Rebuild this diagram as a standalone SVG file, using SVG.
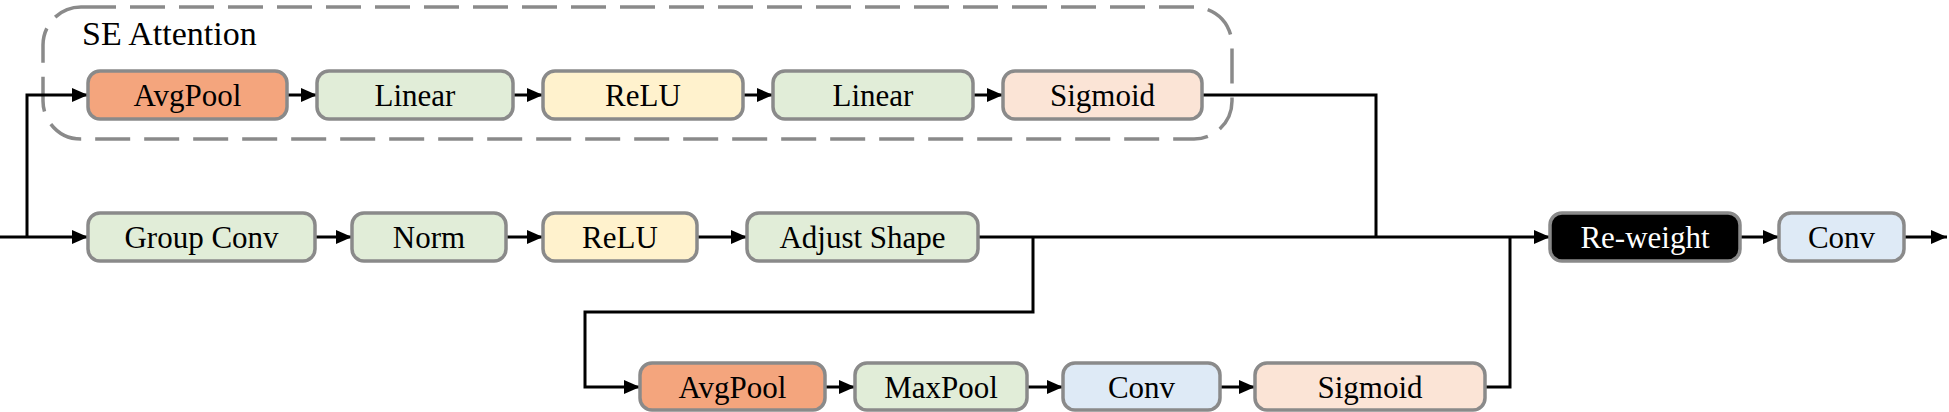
<svg xmlns="http://www.w3.org/2000/svg" width="1949" height="412" viewBox="0 0 1949 412">
<defs>
<marker id="ah" viewBox="0 0 16 14" refX="16" refY="7" markerWidth="16" markerHeight="14" markerUnits="userSpaceOnUse" orient="auto">
<path d="M0,0 L16,7 L0,14 Z" fill="#000"/>
</marker>
</defs>
<style>
.n{stroke:#8a8a8a;stroke-width:3.5}
.t{font-family:"Liberation Serif","Times New Roman",serif;font-size:31px;fill:#000;text-anchor:middle;dominant-baseline:central}
.w{fill:#fff}
.or{fill:#F4A57D}
.gr{fill:#E1EDD8}
.ye{fill:#FFF2CD}
.pk{fill:#FBE4D6}
.bl{fill:#DEEAF6}
.bk{fill:#000}
.c{fill:none;stroke:#000;stroke-width:3}
.ca{fill:none;stroke:#000;stroke-width:3;marker-end:url(#ah)}
</style>
<rect width="1949" height="412" fill="#fff"/>
<g id="se-attention">
<rect x="43" y="7" width="1189" height="132" rx="38" ry="38" fill="none" stroke="#8a8a8a" stroke-width="3.5" stroke-dasharray="35 14"/>
<text x="82" y="45" font-family="'Liberation Serif','Times New Roman',serif" font-size="34" fill="#000">SE Attention</text>
</g>
<g id="connectors">
<path class="ca" d="M0,237 H88"/>
<path class="ca" d="M27,237 V95 H88"/>
<path class="ca" d="M287,95 H317"/>
<path class="ca" d="M513,95 H543"/>
<path class="ca" d="M743,95 H773"/>
<path class="ca" d="M973,95 H1003"/>
<path class="c" d="M1202,95 H1376 V237"/>
<path class="ca" d="M315,237 H352"/>
<path class="ca" d="M506,237 H543"/>
<path class="ca" d="M697,237 H747"/>
<path class="ca" d="M978,237 H1550"/>
<path class="ca" d="M1033,237 V312 H585 V387 H640"/>
<path class="ca" d="M825,387 H855"/>
<path class="ca" d="M1027,387 H1063"/>
<path class="ca" d="M1220,387 H1255"/>
<path class="c" d="M1485,387 H1510 V237"/>
<path class="ca" d="M1740,237 H1779"/>
<path class="ca" d="M1904,237 H1947"/>
</g>
<g id="se-avgpool"><rect class="n or" x="88" y="71" width="199" height="48" rx="12"/><text class="t" x="187.5" y="95">AvgPool</text></g>
<g id="se-linear1"><rect class="n gr" x="317" y="71" width="196" height="48" rx="12"/><text class="t" x="415" y="95">Linear</text></g>
<g id="se-relu"><rect class="n ye" x="543" y="71" width="200" height="48" rx="12"/><text class="t" x="643" y="95">ReLU</text></g>
<g id="se-linear2"><rect class="n gr" x="773" y="71" width="200" height="48" rx="12"/><text class="t" x="873" y="95">Linear</text></g>
<g id="se-sigmoid"><rect class="n pk" x="1003" y="71" width="199" height="48" rx="12"/><text class="t" x="1102.5" y="95">Sigmoid</text></g>
<g id="group-conv"><rect class="n gr" x="88" y="213" width="227" height="48" rx="12"/><text class="t" x="201.5" y="237">Group Conv</text></g>
<g id="norm"><rect class="n gr" x="352" y="213" width="154" height="48" rx="12"/><text class="t" x="429" y="237">Norm</text></g>
<g id="relu"><rect class="n ye" x="543" y="213" width="154" height="48" rx="12"/><text class="t" x="620" y="237">ReLU</text></g>
<g id="adjust-shape"><rect class="n gr" x="747" y="213" width="231" height="48" rx="12"/><text class="t" x="862.5" y="237">Adjust Shape</text></g>
<g id="re-weight"><rect class="n bk" x="1550" y="213" width="190" height="48" rx="12"/><text class="t w" x="1645" y="237">Re-weight</text></g>
<g id="conv-out"><rect class="n bl" x="1779" y="213" width="125" height="48" rx="12"/><text class="t" x="1841.5" y="237">Conv</text></g>
<g id="sa-avgpool"><rect class="n or" x="640" y="363" width="185" height="47" rx="12"/><text class="t" x="732.5" y="387">AvgPool</text></g>
<g id="sa-maxpool"><rect class="n gr" x="855" y="363" width="172" height="47" rx="12"/><text class="t" x="941" y="387">MaxPool</text></g>
<g id="sa-conv"><rect class="n bl" x="1063" y="363" width="157" height="47" rx="12"/><text class="t" x="1141.5" y="387">Conv</text></g>
<g id="sa-sigmoid"><rect class="n pk" x="1255" y="363" width="230" height="47" rx="12"/><text class="t" x="1370" y="387">Sigmoid</text></g>
</svg>
